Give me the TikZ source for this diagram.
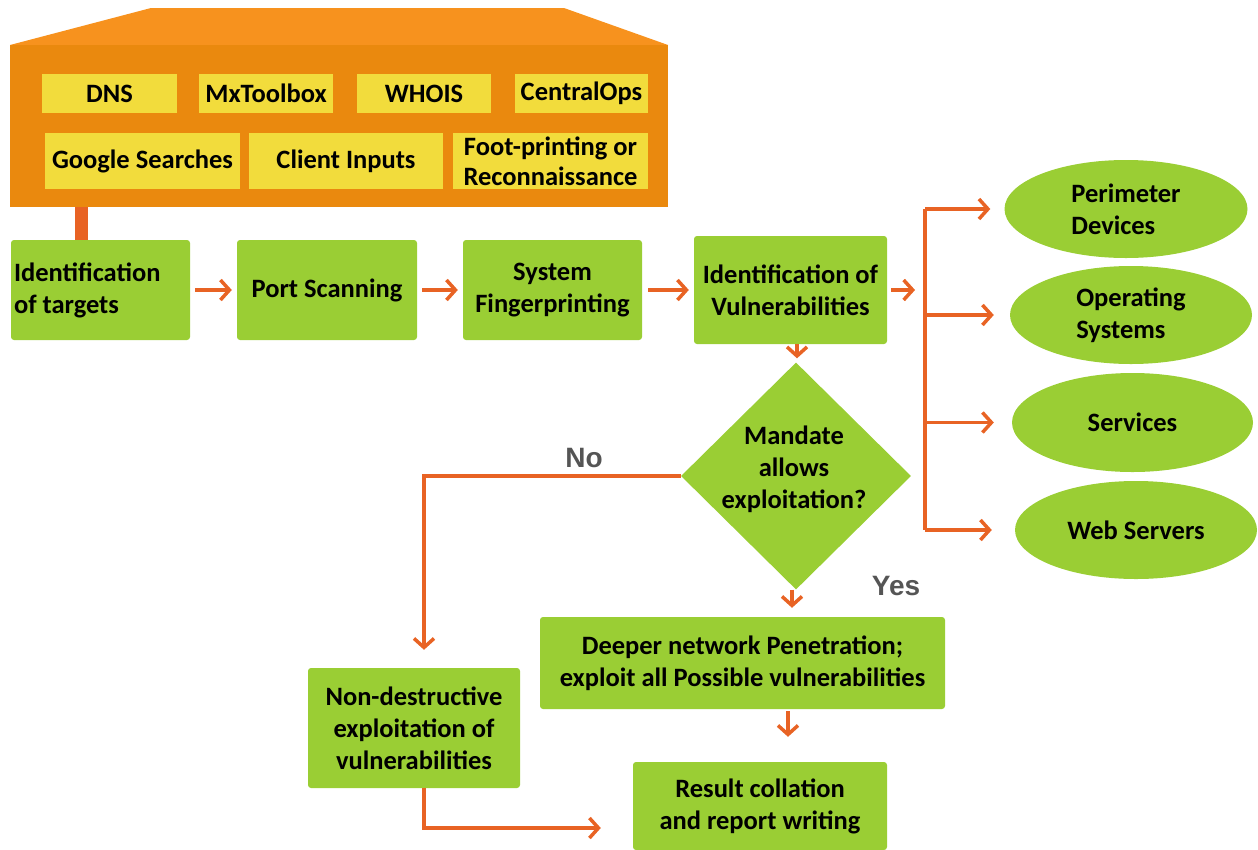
\documentclass[tikz,border=0pt]{standalone}
\usepackage{fontspec}
\setmainfont{Carlito}
\newfontfamily\answerfont{Liberation Sans}
\usetikzlibrary{shapes.geometric,arrows.meta}

\definecolor{leaf}{RGB}{154,206,52}
\definecolor{sun}{RGB}{242,220,60}
\definecolor{roof}{RGB}{247,146,30}
\definecolor{body}{RGB}{234,137,14}
\definecolor{flow}{RGB}{232,99,36}
\definecolor{answer}{RGB}{85,85,85}

\begin{document}
\begin{tikzpicture}[x=1pt,y=-1pt,
  font=\bfseries\fontsize{26.5}{32}\selectfont,
  greenbox/.style={fill=leaf, rounded corners=3pt, inner sep=0pt, align=center},
  tool/.style={fill=sun, inner sep=0pt, align=center},
  target/.style={fill=leaf, ellipse, inner sep=0pt, align=left},
  arr/.style={draw=flow, line width=3.5pt, -{Straight Barb[length=9pt,width=20pt]}},
  link/.style={draw=flow, line width=3.5pt},
  answerlbl/.style={font=\answerfont\bfseries\fontsize{28}{30}\selectfont, text=answer}]

\useasboundingbox (0,0) rectangle (1258,849);

% reconnaissance block
\fill[roof] (10,45) -- (151,8) -- (564,8) -- (668,45) -- cycle;
\fill[body] (10,45) rectangle (668,207);
\node[tool, minimum width=135, minimum height=39] (dns)  at (109.5,93.5) {DNS};
\node[tool, minimum width=134, minimum height=39] (mx)   at (266,93.5) {MxToolbox};
\node[tool, minimum width=134, minimum height=39] (who)  at (424,93.5) {WHOIS};
\node[tool, minimum width=133, minimum height=39] (cops) at (581.5,93.5) {CentralOps};
\node[tool, minimum width=195, minimum height=56] (goo)  at (142.5,161) {Google Searches};
\node[tool, minimum width=194, minimum height=56] (cli)  at (346,161) {Client Inputs};
\node[tool, minimum width=195, minimum height=56, font=\bfseries\fontsize{26.5}{30}\selectfont] (fpr) at (550.5,161) {Foot-printing or\\Reconnaissance};
\coordinate (stem) at (81.5,207);

% main pipeline
\node[greenbox, minimum width=179, minimum height=100, text width=173, align=flush left] (tgt) at (100.5,290) {Identification\\of targets};
\node[greenbox, minimum width=180, minimum height=100] (port) at (327,290) {Port Scanning};
\node[greenbox, minimum width=179, minimum height=100] (sfp)  at (552.5,290) {System\\Fingerprinting};
\node[greenbox, minimum width=193, minimum height=108] (vul)  at (790.5,290) {Identification of\\Vulnerabilities};

\draw[link, line width=13pt] (stem) -- (tgt.north -| stem);
\draw[arr, shorten <=5pt, shorten >=5pt] (tgt) -- (port);
\draw[arr, shorten <=5pt, shorten >=5pt] (port) -- (sfp);
\draw[arr, shorten <=6pt, shorten >=5pt] (sfp) -- (vul.west |- sfp);

% targets of the vulnerability scan
\node[target, minimum width=243, minimum height=98] (pd)  at (1126,209) {Perimeter\\Devices};
\node[target, minimum width=242, minimum height=98] (os)  at (1131,315) {Operating\\Systems};
\node[target, minimum width=241, minimum height=99] (svc) at (1132.5,422.5) {Services};
\node[target, minimum width=242, minimum height=98] (web) at (1136,530) {Web Servers};

\coordinate (spine) at (925,0);
\draw[arr] ([xshift=4pt]vul.east) -- ([xshift=-10pt]vul.east -| spine);
\draw[link] (pd.west -| spine) -- (web.west -| spine);
\draw[arr] (pd.west -| spine)  -- ([xshift=-14pt]pd.west);
\draw[arr] (os.west -| spine)  -- ([xshift=-16pt]os.west);
\draw[arr] (svc.west -| spine) -- ([xshift=-18pt]svc.west);
\draw[arr] (web.west -| spine) -- ([xshift=-23pt]web.west);

% decision
\node[diamond, fill=leaf, inner sep=0pt, minimum width=230, minimum height=227] (dm) at (796,476) {};
\node[align=center, inner sep=0pt] (dmtext) at (794,469) {Mandate\\allows\\exploitation?};
\coordinate (down) at (797,0);
\draw[arr] (vul.south -| down) -- ([yshift=4pt]dm.north -| down);

\node[greenbox, minimum width=405, minimum height=92] (deep) at (742.5,663) {Deeper network Penetration;\\exploit all Possible vulnerabilities};
\node[greenbox, minimum width=212, minimum height=120] (nd) at (414,728) {Non-destructive\\exploitation of\\vulnerabilities};
\node[greenbox, minimum width=254, minimum height=88] (res) at (760,806) {Result collation\\and report writing};

% "No" branch runs down a little right of the box centre
\coordinate (nox) at (424,0);
\draw[arr] (dm.west) -- (nox |- dm.west) -- ([yshift=18pt]nd.north -| nox);
\node[answerlbl] (no) at (584,458) {No};
\coordinate (yesx) at (792,0);
\draw[arr] (dm.south -| yesx) -- ([yshift=9pt]deep.north -| yesx);
\node[answerlbl] (yes) at (896,586) {Yes};

\coordinate (dx) at (788,0);
\draw[arr] ([yshift=-2pt]deep.south -| dx) -- ([yshift=25pt]res.north -| dx);
\draw[arr] (nd.south -| nox) |- ([xshift=-32pt,yshift=-22pt]res.west);

\end{tikzpicture}
\end{document}
